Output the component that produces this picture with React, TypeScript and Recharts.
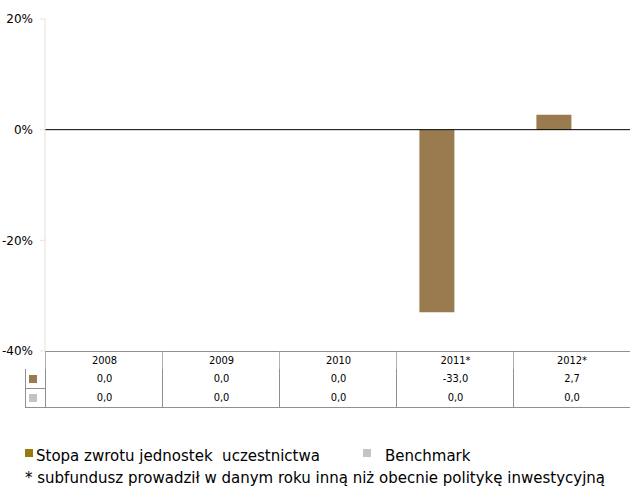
import React from "react";
import { BarChart, Bar, XAxis, YAxis, ReferenceLine } from "recharts";

const years = ["2008", "2009", "2010", "2011*", "2012*"];
const fundReturn = [0.0, 0.0, 0.0, -33.0, 2.7];
const benchmark = [0.0, 0.0, 0.0, 0.0, 0.0];
const yTicks = [-40, -20, 0, 20];

const FUND_COLOR = "#9a7b4f";
const FUND_LEGEND = "#9a7a0c";
const BENCH_COLOR = "#c4c4c4";
const FONT = "'DejaVu Sans Condensed', 'DejaVu Sans', sans-serif";
const WIDE_FONT = "'DejaVu Sans', sans-serif";

const data = years.map((y, i) => ({
  year: y,
  fund: fundReturn[i],
  bench: benchmark[i],
}));

const fmt = (v: number) => v.toFixed(1).replace(".", ",");

const PLOT_LEFT = 45;
const COL_W = 117;
const TABLE_TOP = 351;
const ROW_H = [18, 19, 19];
const BORDER = "#8f8f8f";

function DataTable() {
  const rows = [
    { key: null, values: years },
    { key: FUND_COLOR, values: fundReturn.map(fmt) },
    { key: BENCH_COLOR, values: benchmark.map(fmt) },
  ];
  let top = TABLE_TOP;
  const cells: React.ReactNode[] = [];
  rows.forEach((row, r) => {
    const h = ROW_H[r];
    if (row.key) {
      cells.push(
        <div
          key={`k${r}`}
          style={{
            position: "absolute",
            left: 25,
            top,
            width: 20,
            height: h + 1,
            borderLeft: `1px solid ${BORDER}`,
            borderBottom: `1px solid ${BORDER}`,
            boxSizing: "border-box",
          }}
        >
          <div
            style={{
              position: "absolute",
              left: 3,
              top: (h - 8) / 2,
              width: 8,
              height: 8,
              background: row.key,
            }}
          />
        </div>
      );
    }
    row.values.forEach((v, c) => {
      cells.push(
        <div
          key={`c${r}-${c}`}
          style={{
            position: "absolute",
            left: PLOT_LEFT + c * COL_W,
            top,
            width: COL_W + 1,
            height: h + 1,
            borderLeft: `1px solid ${r === 0 ? "#b0b0b0" : BORDER}`,
            borderTop: r === 0 ? `1px solid ${BORDER}` : "none",
            borderBottom: `1px solid ${BORDER}`,
            borderRight: c === years.length - 1 ? `1px solid ${BORDER}` : "none",
            boxSizing: "border-box",
            fontSize: 11,
            lineHeight: `${h}px`,
            textAlign: "center",
            color: "#000",
            background: "#fff",
          }}
        >
          {v}
        </div>
      );
    });
    top += h;
  });
  return <>{cells}</>;
}

export default function App() {
  return (
    <div
      style={{
        position: "absolute",
        left: 0,
        top: 0,
        width: 630,
        height: 488,
        overflow: "hidden",
        background: "#fff",
        fontFamily: FONT,
      }}
    >
      <BarChart
        width={630}
        height={362}
        data={data}
        margin={{ top: 19, right: 0, bottom: 11, left: 0 }}
        barCategoryGap="20%"
        barGap={0}
      >
        <XAxis dataKey="year" hide />
        <YAxis
          width={45}
          domain={[-40, 20]}
          ticks={yTicks}
          interval={0}
          tickFormatter={(v: number) => `${v}%`}
          tick={{ fill: "#000", fontSize: 12, fontFamily: WIDE_FONT }}
          stroke="#e4e1d6"
          tickLine={{ stroke: "#e4e1d6" }}
          tickSize={5}
          tickMargin={7}
        />
        <Bar dataKey="fund" fill={FUND_COLOR} isAnimationActive={false} />
        <Bar dataKey="bench" fill={BENCH_COLOR} isAnimationActive={false} />
        <ReferenceLine y={0} stroke="#000" strokeWidth={1} />
      </BarChart>
      <DataTable />
      <div style={{ position: "absolute", left: 25, top: 449, width: 8, height: 8, background: FUND_LEGEND }} />
      <div
        style={{
          position: "absolute",
          left: 36,
          top: 447,
          fontSize: 15,
          lineHeight: "18px",
          fontFamily: WIDE_FONT,
          whiteSpace: "pre",
        }}
      >
        Stopa zwrotu jednostek  uczestnictwa
      </div>
      <div style={{ position: "absolute", left: 363, top: 449, width: 8, height: 8, background: BENCH_COLOR }} />
      <div
        style={{
          position: "absolute",
          left: 385,
          top: 447,
          fontSize: 15,
          lineHeight: "18px",
          fontFamily: WIDE_FONT,
          whiteSpace: "pre",
        }}
      >
        Benchmark
      </div>
      <div
        style={{
          position: "absolute",
          left: 25,
          top: 469,
          fontSize: 15,
          lineHeight: "18px",
          fontFamily: WIDE_FONT,
          whiteSpace: "nowrap",
        }}
      >
        * subfundusz prowadził w danym roku inną niż obecnie politykę inwestycyjną
      </div>
    </div>
  );
}
